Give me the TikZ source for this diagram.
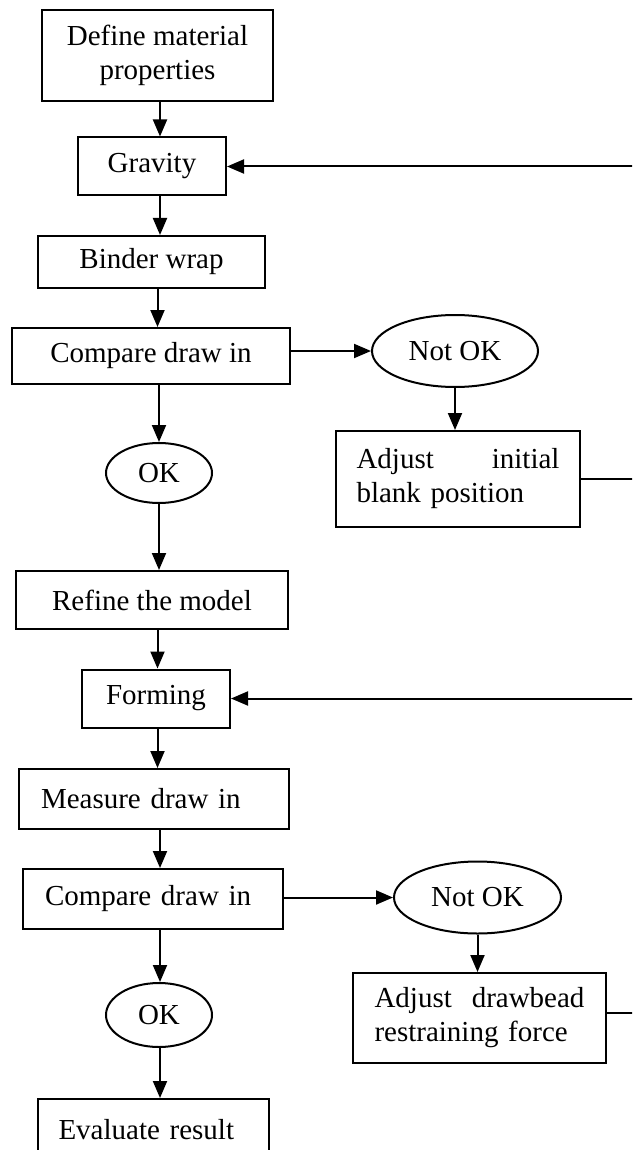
\documentclass[tikz,border=0pt]{standalone}
\usepackage{fontspec}
\setmainfont{Liberation Serif}
\usetikzlibrary{shapes.geometric,arrows.meta}
\begin{document}
\begin{tikzpicture}[x=0.5pt,y=-0.5pt,
  every node/.style={font=\fontsize{14.5pt}{17pt}\selectfont},
  box/.style={draw,line width=1pt,rectangle,inner sep=0pt,align=center},
  lbox/.style={draw,line width=1pt,rectangle,inner ysep=0pt,inner xsep=11pt,align=left},
  oval/.style={draw,line width=1pt,ellipse,inner sep=0pt},
  arr/.style={line width=1pt,-{Triangle[length=8.5pt,width=7pt]}},
  ln/.style={line width=1pt}]
\useasboundingbox (0,0) rectangle (632,1150);
\clip (0,0) rectangle (632,1150);
% nodes
\node[box,minimum width=115.5pt,minimum height=45.5pt] (def) at (157.5,55.5) {Define material\\properties};
\node[box,minimum width=74pt,minimum height=29pt] (grav) at (152,166.5) {Gravity};
\node[box,minimum width=113.5pt,minimum height=26pt] (bind) at (151.5,262) {Binder wrap};
\node[box,minimum width=139pt,minimum height=28pt] (cmp1) at (151,356) {Compare draw in};
\node[oval,minimum width=83pt,minimum height=36pt] (nok1) at (455,351) {Not OK};
\node[box,minimum width=122pt,minimum height=48pt,text width=101.5pt,align=left] (adj1) at (458,479) {Adjust\hfill initial\\blank position};
\node[oval,minimum width=53pt,minimum height=30pt] (ok1) at (159,473) {OK};
\node[box,minimum width=136pt,minimum height=29pt] (ref) at (152,600) {Refine the model};
\node[box,minimum width=74pt,minimum height=29pt] (form) at (156,698.5) {Forming};
\node[lbox,minimum height=30pt,text width=113pt] (meas) at (154,799) {Measure draw in};
\node[lbox,minimum height=30pt,text width=108pt] (cmp2) at (153,899) {Compare draw in};
\node[oval,minimum width=83.5pt,minimum height=36pt] (nok2) at (477.5,897.5) {Not OK};
\node[box,minimum width=126.5pt,minimum height=45pt,text width=105pt,align=left] (adj2) at (479.5,1018) {Adjust\hfill drawbead\\restraining force};
\node[oval,minimum width=53pt,minimum height=32pt] (ok2) at (159,1015) {OK};
\node[lbox,minimum height=31pt,text width=94.5pt,inner xsep=10.5pt] (eval) at (153,1130) {Evaluate result};
% helper coordinates
\coordinate (xa) at (160,0);
\coordinate (xb) at (157.5,0);
\coordinate (rx) at (660,0);
% vertical connectors
\draw[arr] (def.south -| xa) -- (grav.north -| xa);
\draw[arr] (grav.south -| xa) -- (bind.north -| xa);
\draw[arr] (bind.south -| xb) -- (cmp1.north -| xb);
\draw[arr] (cmp1.south -| ok1) -- (ok1.north);
\draw[arr] (ok1.south) -- (ref.north -| ok1);
\draw[arr] (ref.south -| xb) -- (form.north -| xb);
\draw[arr] (form.south -| xb) -- (meas.north -| xb);
\draw[arr] (meas.south -| xa) -- (cmp2.north -| xa);
\draw[arr] (cmp2.south -| xa) -- (ok2.north -| xa);
\draw[arr] (ok2.south -| xa) -- (eval.north -| xa);
\draw[arr] (nok1.south) -- (adj1.north -| nok1);
\draw[arr] (nok2.south) -- (adj2.north -| nok2);
% horizontal connectors
\draw[arr] (nok1.west -| cmp1.east) -- (nok1.west);
\draw[arr] (nok2.west -| cmp2.east) -- (nok2.west);
% feedback loops
\draw[arr] (adj1.east) -- (adj1.east -| rx) -- (grav.east -| rx) -- (grav.east);
\draw[arr] ([yshift=2.5pt]adj2.east) -- ([yshift=2.5pt]adj2.east -| rx) -- (form.east -| rx) -- (form.east);
\end{tikzpicture}
\end{document}
